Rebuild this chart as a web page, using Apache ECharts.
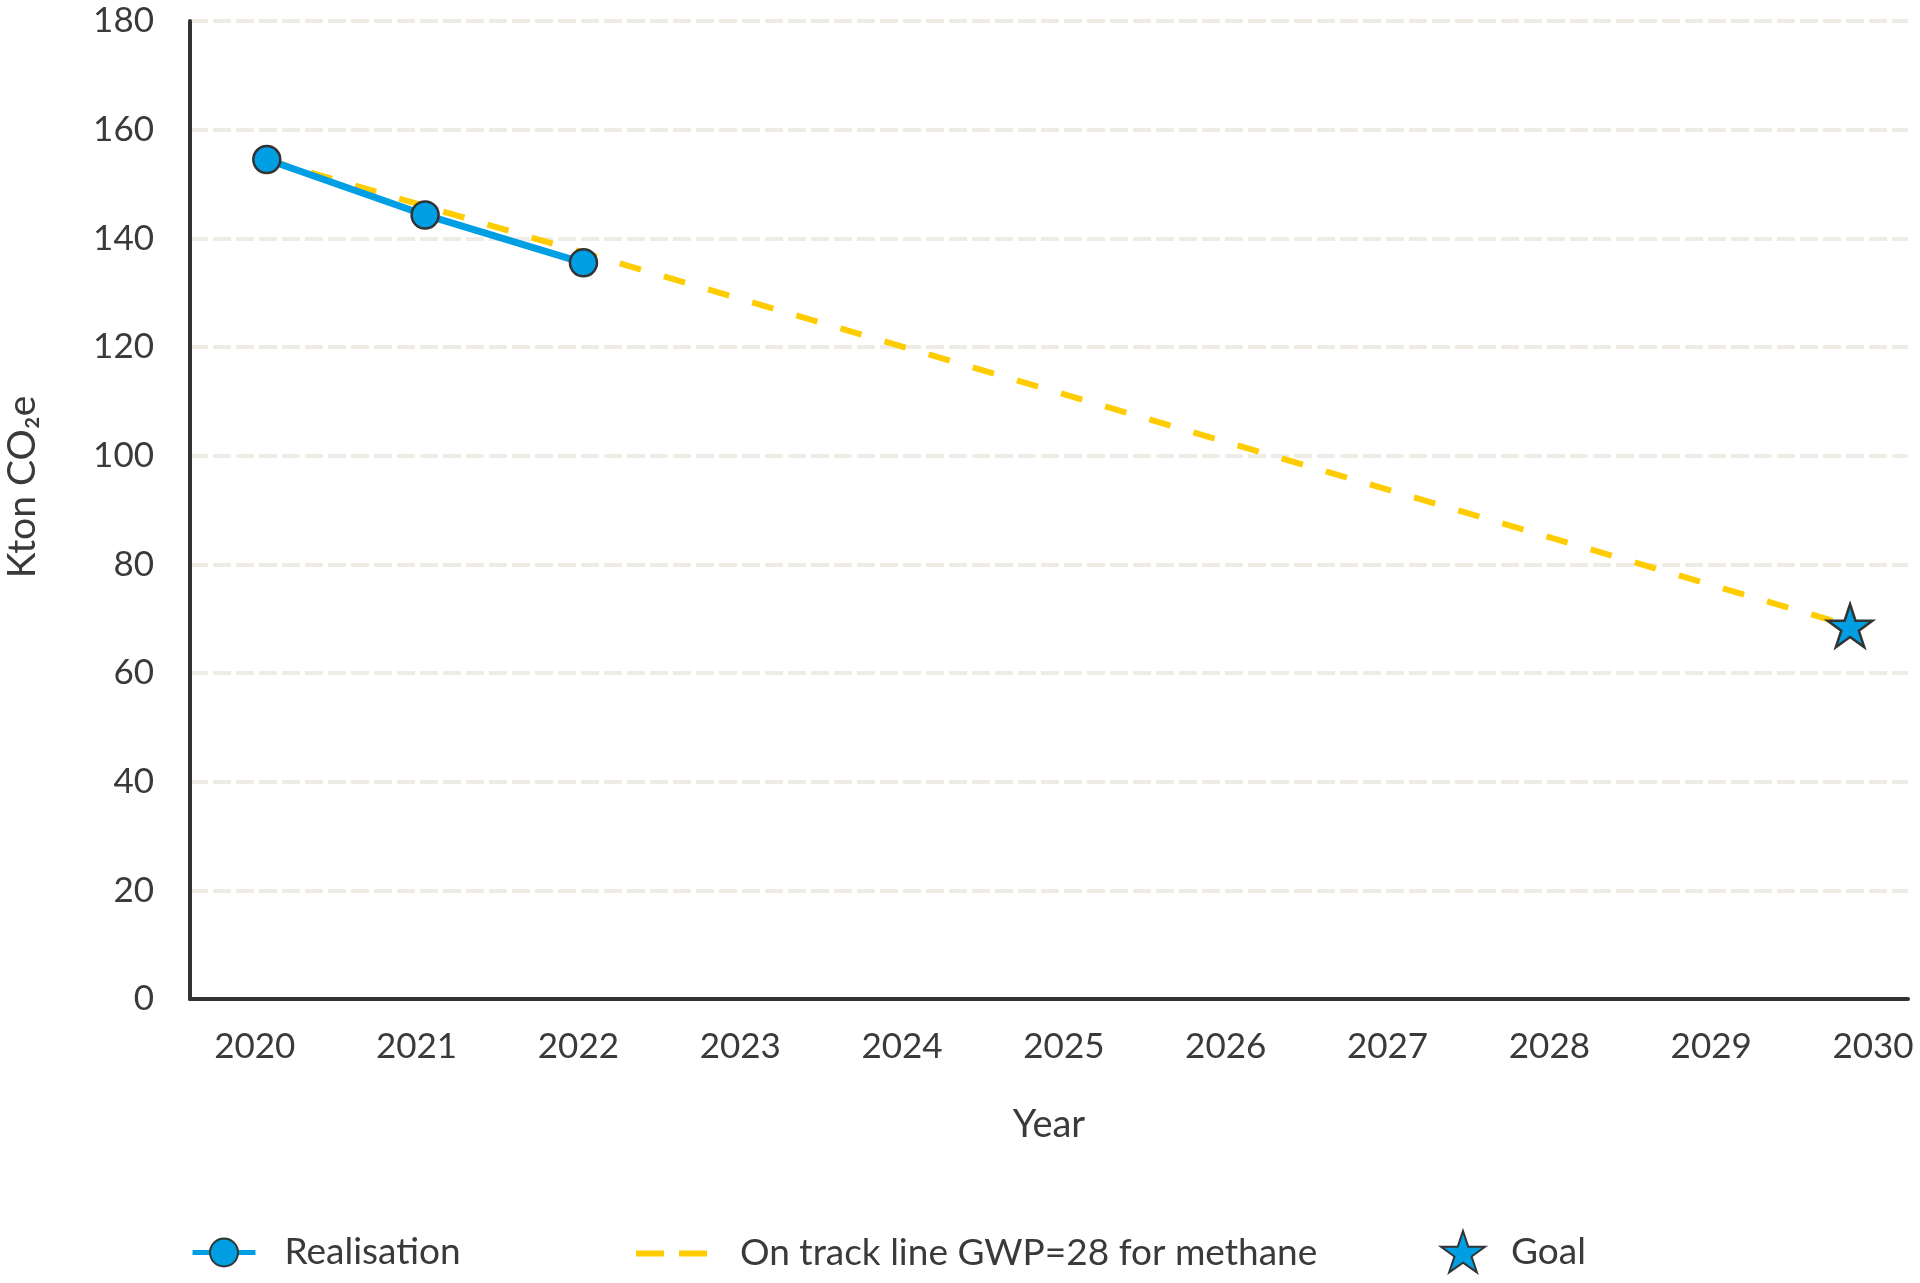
<!DOCTYPE html>
<html>
<head>
<meta charset="utf-8">
<title>Kton CO2e - realisation and on track line</title>
<script src="https://cdn.jsdelivr.net/npm/echarts@6/dist/echarts.min.js"></script>
<style>
  html, body { margin: 0; padding: 0; background: #ffffff; }
  #chart { width: 1920px; height: 1283px; }
</style>
</head>
<body>
<div id="chart"></div>
<script>
// data
const years = [2020, 2021, 2022, 2023, 2024, 2025, 2026, 2027, 2028, 2029, 2030];
const realisationYears = [2020, 2021, 2022];
const realisationValues = [154.5, 144.3, 135.5];
const onTrackYears = [2020, 2030];
const onTrackValues = [154.5, 68.7];
const goalYears = [2030];
const goalValues = [68.7];

const textColor = '#3a3a3a';
const blue = '#009fe3';
const yellow = '#ffcc00';
const font = 'Lato';
// five point star, echarts has no built-in one
const starPath = 'path://M50,0 L61.8,35.1 L98.9,35.1 L69.1,56.7 L80.9,91.9 L50,70.3 L19.1,91.9 L30.9,56.7 L1.1,35.1 L38.2,35.1 Z';

const toPairs = (xs, ys) => xs.map((x, i) => [x, ys[i]]);

let chart = echarts.init(document.getElementById('chart'));
chart.setOption({
    backgroundColor: '#ffffff',
    animation: false,
    textStyle: { fontFamily: font, color: textColor },
    grid: { left: 190, right: 12, top: 21, bottom: 284, containLabel: false, outerBoundsMode: 'none' },
    xAxis: [
        {
            // scale used by the marks
            type: 'value',
            min: 2019.515,
            max: 2030.366,
            name: 'Year',
            nameLocation: 'middle',
            nameGap: 107,
            nameTextStyle: { fontSize: 38, color: textColor, fontFamily: font },
            axisLine: { show: true, onZero: false, lineStyle: { color: '#333333', width: 4 } },
            axisTick: { show: false },
            axisLabel: { show: false },
            splitLine: { show: false }
        },
        {
            // year labels, spaced as in the reference
            type: 'value',
            position: 'bottom',
            min: 2019.6,
            max: 2030.216,
            axisLine: { show: false },
            axisTick: { show: false },
            splitLine: { show: false },
            axisLabel: {
                customValues: years,
                margin: 30,
                fontSize: 35,
                color: textColor,
                fontFamily: font,
                formatter: v => String(v)
            }
        }
    ],
    yAxis: {
        type: 'value',
        min: 0,
        max: 180,
        interval: 20,
        name: 'Kton CO₂e',
        nameLocation: 'middle',
        nameGap: 148,
        nameTextStyle: { fontSize: 39, color: textColor, fontFamily: font, padding: [0, 0, 0, 46] },
        axisLine: { show: true, lineStyle: { color: '#333333', width: 4 } },
        axisTick: { show: false },
        axisLabel: { margin: 36, fontSize: 35, color: textColor, fontFamily: font },
        splitLine: {
            show: true,
            lineStyle: { color: '#efece6', width: 4, type: [18, 5] }
        }
    },
    legend: [
        {
            data: ['Realisation'],
            left: 190, top: 1234, padding: 0,
            itemWidth: 63, itemHeight: 35,
            lineStyle: { width: 5 },
            textStyle: { fontSize: 37, color: textColor, fontFamily: font, padding: [0, 0, 0, 24] }
        },
        {
            data: ['On track line GWP=28 for methane'],
            left: 633, top: 1235, padding: 0,
            itemWidth: 71, itemHeight: 14,
            itemStyle: { color: 'rgba(0,0,0,0)', borderWidth: 0 },
            lineStyle: { type: [28, 15], width: 6 },
            textStyle: { fontSize: 37, color: textColor, fontFamily: font, padding: [0, 0, 0, 28] }
        },
        {
            data: ['Goal'],
            left: 1440, top: 1230, padding: 0,
            itemWidth: 44, itemHeight: 42,
            textStyle: { fontSize: 37, color: textColor, fontFamily: font, padding: [0, 0, 0, 21] }
        }
    ],
    series: [
        {
            name: 'On track line GWP=28 for methane',
            type: 'line',
            data: toPairs(onTrackYears, onTrackValues),
            symbol: 'none',
            z: 2,
            itemStyle: { color: yellow },
            lineStyle: { color: yellow, width: 6, type: [22, 24] }
        },
        {
            name: 'Realisation',
            type: 'line',
            data: toPairs(realisationYears, realisationValues),
            symbol: 'circle',
            symbolSize: 27,
            z: 3,
            itemStyle: { color: blue, borderColor: '#333333', borderWidth: 2.5 },
            lineStyle: { color: blue, width: 7 }
        },
        {
            name: 'Goal',
            type: 'scatter',
            data: toPairs(goalYears, goalValues),
            symbol: starPath,
            symbolSize: [45, 43],
            z: 4,
            itemStyle: { color: blue, borderColor: '#333333', borderWidth: 2.5, opacity: 1 }
        }
    ]
});
</script>
</body>
</html>
